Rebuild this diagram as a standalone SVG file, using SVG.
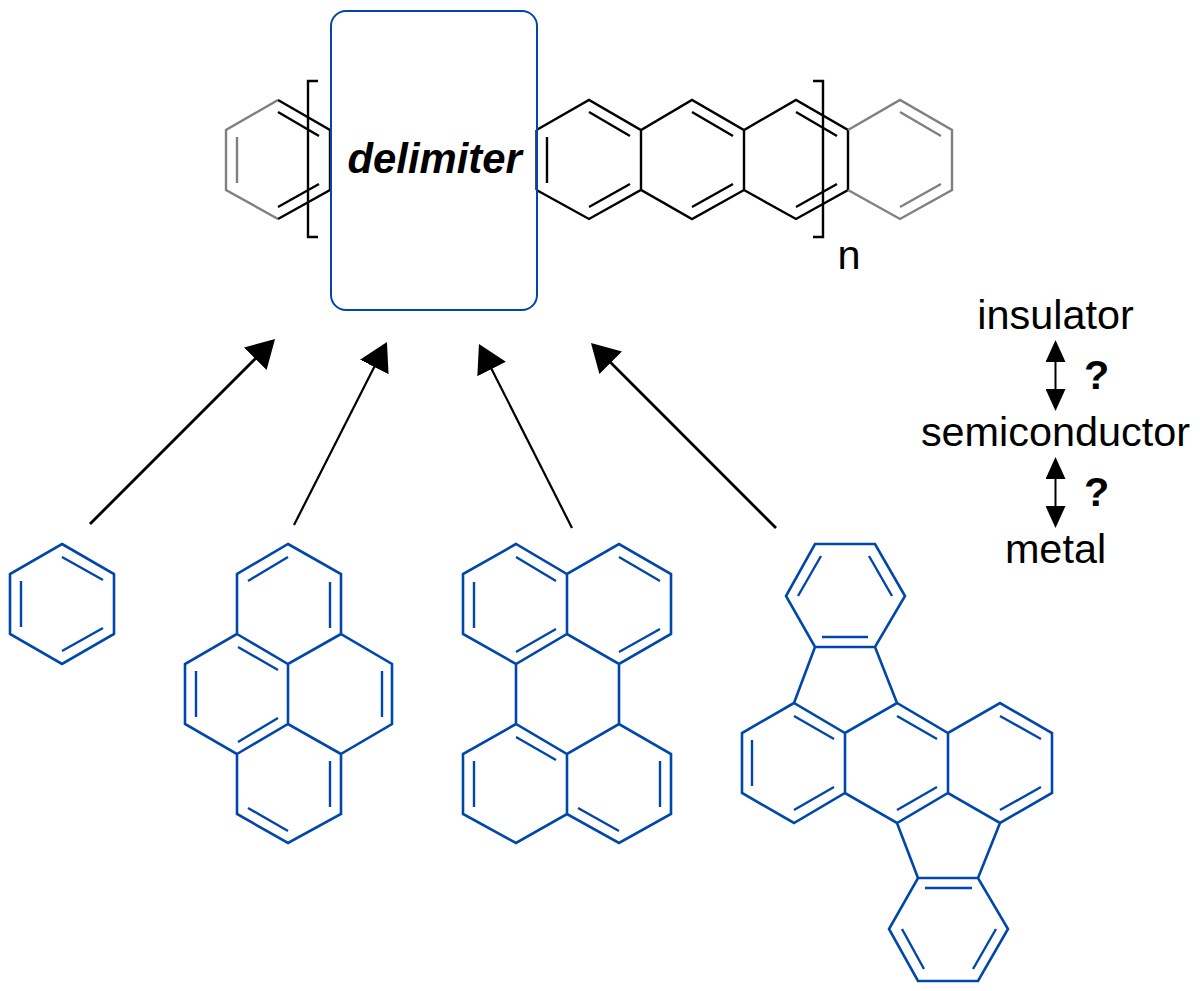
<svg xmlns="http://www.w3.org/2000/svg" width="1200" height="991" viewBox="0 0 1200 991">
<style>
.b{fill:none;stroke-width:2.400;stroke-linejoin:miter;stroke-linecap:butt}
.k{stroke:#000}
.g{stroke:#808080}
.m{stroke:#0047ab;stroke-width:2.600}
.i{stroke:#0047ab;stroke-width:2.400}
text{font-family:"Liberation Sans",Arial,sans-serif;font-size:41.400px;fill:#000}
.bold{font-weight:bold}
.c{text-anchor:middle}
</style>
<defs>
<marker id="big" markerUnits="userSpaceOnUse" markerWidth="28" markerHeight="32" viewBox="0 0 28 32" refX="8" refY="16" orient="auto"><path d="M0,0L28,16L0,32z" fill="#000"/></marker>
<marker id="small" markerUnits="userSpaceOnUse" markerWidth="22" markerHeight="20" viewBox="0 0 22 20" refX="12" refY="10" orient="auto-start-reverse"><path d="M0,0L22,10L0,20z" fill="#000"/></marker>
</defs>
<rect width="1200" height="991" fill="#fff"/>
<g id="polymer">
<path class="b g" d="M278,100L226,130V190L278,219M237,137V183"/>
<path class="b k" d="M278,100L330,130V190L278,219M278,112L319,136M278,207L319,184"/>
<path class="b k" d="M536.500,130V190M536.500,130L589,100L641,130L692,100L744,130L796,100L848,130V190L796,219L744,190L692,219L641,190L589,219L536.500,190M641,130V190M744,130V190M547,137V183M589,112L630,136M589,207L630,184M692,112L733,136M692,207L733,184M796,112L837,136M796,207L837,184"/>
<path class="b g" d="M848,130L900,100L952,130V190L900,219L848,190M900,112L941,136M900,207L941,184"/>
<path class="b k" d="M318,81H308V237H318M813,81H823V237H813"/>
<text x="837.500" y="269">n</text>
</g>
<g id="delimiter">
<rect x="331" y="11" width="206" height="299" rx="15" ry="15" fill="#fff" fill-opacity="0" stroke="#0047ab" stroke-width="2"/>
<text x="347.500" y="173" class="bold" font-style="italic" style="font-size:41.800px">delimiter</text>
</g>
<g id="connectors" fill="none" stroke="#000">
<line x1="90" y1="524" x2="260.900" y2="353.100" stroke-width="2.800" marker-end="url(#big)"/>
<line x1="294" y1="525" x2="377.900" y2="359.800" stroke-width="2.200" marker-end="url(#big)"/>
<line x1="572" y1="528" x2="488" y2="361.900" stroke-width="2.200" marker-end="url(#big)"/>
<line x1="776" y1="528" x2="605.100" y2="357.100" stroke-width="2.800" marker-end="url(#big)"/>
<line x1="1055.500" y1="350" x2="1055.500" y2="401" stroke-width="2" marker-start="url(#small)" marker-end="url(#small)"/>
<line x1="1055.500" y1="467" x2="1055.500" y2="518" stroke-width="2" marker-start="url(#small)" marker-end="url(#small)"/>
</g>
<g id="benzene">
<path class="b m" d="M62,544L114,574V634L62,664L10,634V574Z"/>
<path class="b i" d="M21,581V627M62,557L103,580M62,651L103,628"/>
</g>
<g id="pyrene">
<path class="b m" d="M288,544L341,574V634L392,664V724L341,754V814L288,843L237,814V754L185,724V664L237,634V574ZM237,634L288,664L341,634M288,664V724M237,754L288,724L341,754"/>
<path class="b i" d="M248,581L288,557M330,582V628M238,647L278,670M196,671V717M382,671V717M238,742L278,718M330,761V807M248,808L288,831"/>
</g>
<g id="perylene">
<path class="b m" d="M516,544L463,574V634L516,664L567,634L619,664L671,634V574L619,544L567,574ZM567,574V634M516,664V724M619,664V724M516,724L463,754V814L516,843L567,814L619,843L671,814V754L619,724L567,754ZM567,754V814"/>
<path class="b i" d="M516,557L556,581M474,582V628M516,652L556,629M619,557L660,581M619,652L660,629M516,737L556,760M474,761V807M578,808L619,831M660,761V807"/>
</g>
<g id="rubicene">
<path class="b m" d="M815,544H875L905,596L875,647H815L786,596ZM815,647L794,703M875,647L897,703M794,703L742,733V793L794,823L845,793L897,823L948,793L1000,823L1052,793V733L1000,703L948,733L897,703L845,733ZM845,733V793M948,733V793M897,823L918,878M1000,823L978,878M918,878H978L1008,929L978,981H918L889,929Z"/>
<path class="b i" d="M798,596L821,556M869,556L892,596M822,637H868M794,716L834,739M752,740V786M794,810L834,787M897,716L937,739M1000,716L1041,739M897,810L937,787M1000,810L1041,787M925,888H972M902,929L924,969M996,929L973,969"/>
</g>
<g id="labels">
<text x="1055.500" y="329" class="c">insulator</text>
<text x="1055.500" y="446" class="c">semiconductor</text>
<text x="1055.500" y="563" class="c">metal</text>
<text x="1084" y="389" class="bold">?</text>
<text x="1084" y="506" class="bold">?</text>
</g>
</svg>
